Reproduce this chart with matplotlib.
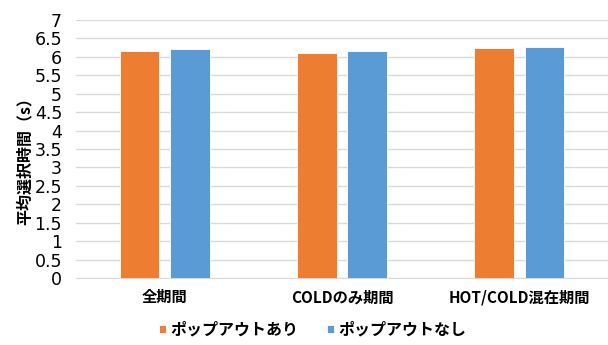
import matplotlib.pyplot as plt
import numpy as np

plt.rcParams["font.family"] = ["Noto Sans CJK JP", "DejaVu Sans"]

periods = ["全期間", "COLDのみ期間", "HOT/COLD混在期間"]
with_popout = [6.15, 6.10, 6.23]
without_popout = [6.20, 6.16, 6.26]
series_names = ["ポップアウトあり", "ポップアウトなし"]
colors = ["#ED7D31", "#5B9BD5"]
yticks = np.arange(0, 7.01, 0.5)

fig = plt.figure(figsize=(6.08, 3.45), dpi=100)
ax = fig.add_axes([76 / 608, 1 - 278 / 345, 532 / 608, 258 / 345])

x = np.arange(len(periods))
width = 0.225
offset = 0.142
for vals, name, color, sign in zip([with_popout, without_popout], series_names, colors, [-1, 1]):
    ax.bar(x + sign * offset, vals, width, color=color, edgecolor="white",
           linewidth=0.6, label=name, zorder=3)

ax.set_xlim(-0.5, len(periods) - 0.5)
ax.set_ylim(0, 7)
ax.set_yticks(yticks)
ax.set_yticklabels([f"{v:g}" for v in yticks],
                   family=["Liberation Sans Narrow", "DejaVu Sans"], fontsize=12.5)
ax.set_xticks(x)
ax.set_xticklabels(periods, fontsize=11, fontweight="bold")
ax.tick_params(axis="y", length=0, pad=10)
ax.tick_params(axis="x", length=0, pad=8)
ax.grid(axis="y", color="#D9D9D9", linewidth=1, zorder=0)
for s in ["top", "right", "left"]:
    ax.spines[s].set_visible(False)
ax.spines["bottom"].set_color("#D9D9D9")

ax.set_ylabel("平均選択時間（s）", fontsize=11.5, fontweight="bold")
ax.yaxis.set_label_coords(-0.082, 0.47)

ax.legend(loc="center", bbox_to_anchor=(0.445, -0.2), ncol=2, frameon=False,
          handlelength=0.45, handleheight=0.45, handletextpad=0.25,
          columnspacing=1.8, prop={"weight": "bold", "size": 11.5})

fig.savefig("out.png", dpi=100)
